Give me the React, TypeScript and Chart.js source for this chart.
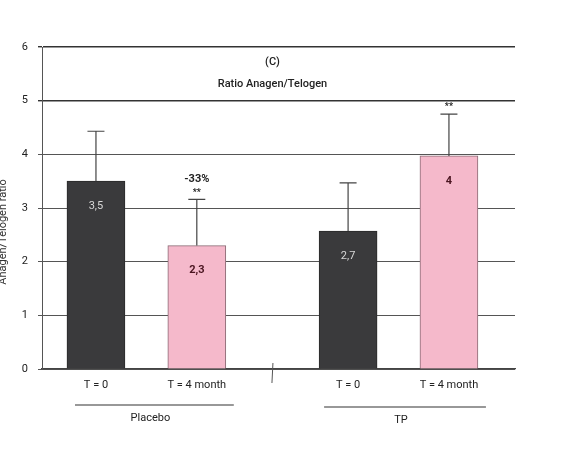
import React, { useEffect, useRef } from "react";
import { Chart, registerables } from "chart.js";
Chart.register(...registerables);

const categories = ["T = 0", "T = 4 month", "T = 0", "T = 4 month"];
const positions = [0, 2, 5, 7];
const values = [3.5, 2.3, 2.57, 3.97];
const errorTops = [4.43, 3.16, 3.47, 4.75];
const valueLabels = ["3,5", "2,3", "2,7", "4"];
const aboveLabels = ["", "-33%", "", ""];
const starLabels = ["", "**", "", "**"];
const groups = ["Placebo", "TP"];
const yTicks = [0, 1, 2, 3, 4, 5, 6];
const titleLines = ["(C)", "Ratio Anagen/Telogen"];
const yTitle = "Anagen/Telogen ratio";

const DARK = "#3a3a3c";
const PINK = "#f5b9cb";
const FONT = "Roboto, 'Liberation Sans', Arial, sans-serif";

export default function App() {
  const ref = useRef<HTMLCanvasElement>(null);
  useEffect(() => {
    if (!ref.current) return;
    const overlay = {
      id: "overlay",
      afterDatasetsDraw(chart: any) {
        const ctx = chart.ctx;
        const xs = chart.scales.x;
        const ys = chart.scales.y;
        const ca = chart.chartArea;
        ctx.save();
        // error bars
        ctx.strokeStyle = "#444";
        ctx.lineWidth = 1.2;
        positions.forEach((p, i) => {
          const x = xs.getPixelForValue(p);
          const y0 = ys.getPixelForValue(values[i]);
          const y1 = ys.getPixelForValue(errorTops[i]);
          ctx.beginPath();
          ctx.moveTo(x, y0);
          ctx.lineTo(x, y1);
          ctx.moveTo(x - 8.5, y1);
          ctx.lineTo(x + 8.5, y1);
          ctx.stroke();
        });
        // labels in bars
        ctx.textAlign = "center";
        ctx.textBaseline = "middle";
        positions.forEach((p, i) => {
          const x = xs.getPixelForValue(p);
          const yTop = ys.getPixelForValue(values[i]);
          const dark = i % 2 === 0;
          ctx.fillStyle = dark ? "#d8d8d8" : "#4a1420";
          ctx.font = (dark ? "" : "bold ") + "11px " + FONT;
          ctx.fillText(valueLabels[i], x, yTop + 25);
          const yErr = ys.getPixelForValue(errorTops[i]);
          ctx.fillStyle = "#222";
          if (starLabels[i]) {
            ctx.font = "bold 9px " + FONT;
            ctx.fillText(starLabels[i], x, yErr - 7);
          }
          if (aboveLabels[i]) {
            ctx.font = "bold 11px " + FONT;
            ctx.fillText(aboveLabels[i], x, yErr - 20);
          }
        });
        // title inside box
        const cx = xs.getPixelForValue((positions[1] + positions[2]) / 2);
        ctx.fillStyle = "#222";
        ctx.font = "500 11px " + FONT;
        ctx.fillText(titleLines[0], cx, ys.getPixelForValue(5.71));
        ctx.fillText(titleLines[1], cx, ys.getPixelForValue(5.31));
        // axis break mark
        ctx.strokeStyle = "#555";
        ctx.lineWidth = 1;
        ctx.beginPath();
        ctx.moveTo(cx + 0.5, ca.bottom - 6);
        ctx.lineTo(cx - 0.5, ca.bottom + 14);
        ctx.stroke();
        // group labels with lines
        ctx.font = "11px " + FONT;
        for (let g = 0; g < groups.length; g++) {
          const xa = xs.getPixelForValue(positions[g * 2]);
          const xb = xs.getPixelForValue(positions[g * 2 + 1]);
          const lineY = ca.bottom + 36 + g * 2;
          const l = xa - 21 - g * 3;
          const r = xb + 37;
          ctx.strokeStyle = "#333";
          ctx.lineWidth = 1.2;
          ctx.beginPath();
          ctx.moveTo(l, lineY);
          ctx.lineTo(r, lineY);
          ctx.stroke();
          ctx.fillStyle = "#222";
          ctx.fillText(groups[g], (l + r) / 2 - 4, lineY + 13);
        }
        // y axis title (clipped at left edge)
        ctx.save();
        ctx.translate(3, 232);
        ctx.rotate(-Math.PI / 2);
        ctx.fillStyle = "#333";
        ctx.font = "11px " + FONT;
        ctx.fillText(yTitle, 0, 0);
        ctx.restore();
        ctx.restore();
      },
    };
    const chart = new Chart(ref.current, {
      type: "bar",
      data: {
        datasets: [
          {
            data: positions.map((p, i) => ({ x: p, y: values[i] })),
            backgroundColor: values.map((_, i) => (i % 2 === 0 ? DARK : PINK)),
            borderColor: values.map((_, i) => (i % 2 === 0 ? "#2a2a2a" : "#8a6a74")),
            borderWidth: 1,
            barThickness: 58,
          },
        ],
      },
      options: {
        animation: false,
        responsive: false,
        maintainAspectRatio: false,
        layout: { padding: { top: 47, right: 55, left: 0, bottom: 0 } },
        plugins: { legend: { display: false }, tooltip: { enabled: false }, title: { display: false } },
        scales: {
          x: {
            type: "linear",
            offset: false,
            min: -1.07,
            max: 8.31,
            afterBuildTicks: (axis: any) => {
              axis.ticks = positions.map((v) => ({ value: v }));
            },
            ticks: {
              autoSkip: false,
              maxRotation: 0,
              color: "#222",
              font: { family: FONT, size: 11 },
              padding: 10,
              callback: (v: any) => {
                const i = positions.indexOf(Number(v));
                return i >= 0 ? categories[i] : "";
              },
            },
            grid: { display: false, drawTicks: false, offset: false },
            border: { display: true, color: "#444", width: 1.2 },
            afterFit: (s: any) => {
              s.height = 96;
            },
          },
          y: {
            min: 0,
            max: 6,
            afterBuildTicks: (axis: any) => {
              axis.ticks = yTicks.map((v) => ({ value: v }));
            },
            ticks: {
              color: "#222",
              font: { family: FONT, size: 11 },
              padding: 10,
            },
            grid: {
              color: (c: any) => (c.tick && c.tick.value >= 5 ? "#333" : "#555"),
              lineWidth: (c: any) => (c.tick && c.tick.value >= 5 ? 1.4 : 1),
              tickLength: 4,
            },
            border: { display: true, color: "#555", width: 1 },
            afterFit: (s: any) => {
              s.width = 42;
            },
          },
        },
      } as any,
      plugins: [overlay],
    });
    return () => chart.destroy();
  }, []);
  return (
    <div style={{ position: "fixed", left: 0, top: 0, width: 570, height: 465, background: "#fff" }}>
      <canvas ref={ref} width={570} height={465} style={{ width: 570, height: 465 }} />
    </div>
  );
}
